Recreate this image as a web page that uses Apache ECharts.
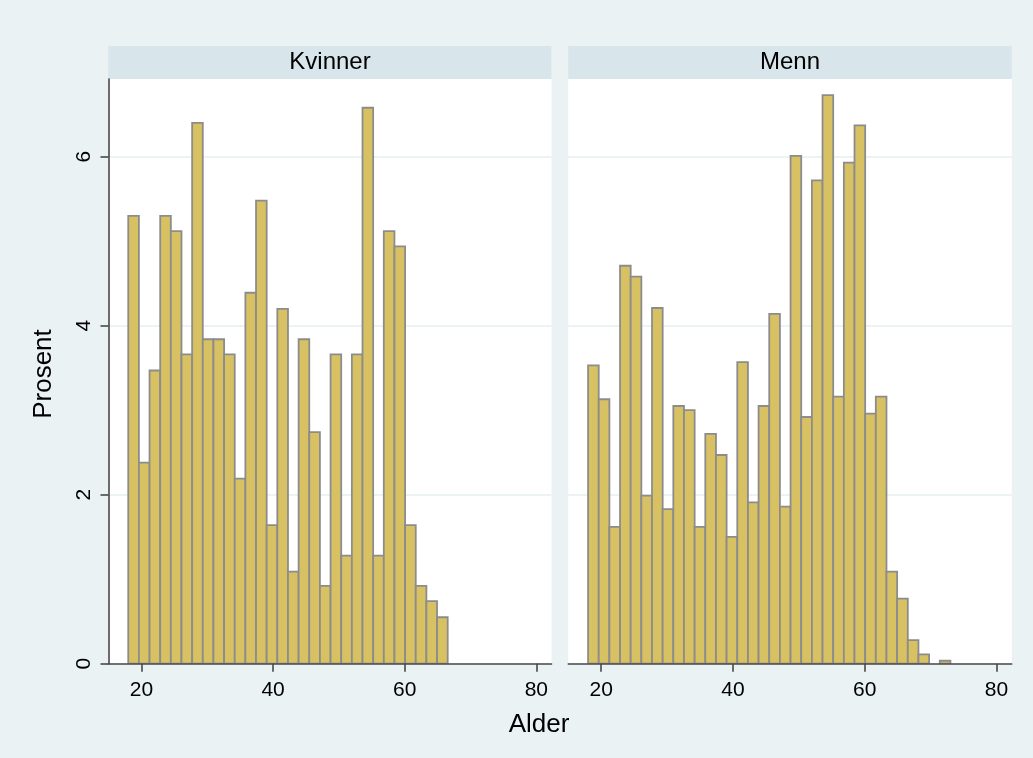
<!DOCTYPE html>
<html><head><meta charset="utf-8">
<script src="https://cdn.jsdelivr.net/npm/echarts@6/dist/echarts.min.js"></script>
<style>html,body{margin:0;padding:0;background:#EAF2F3}#c{width:1033px;height:758px}</style>
</head><body><div id="c"></div>
<script>
const panelTitles = ['Kvinner', 'Menn'];
const binMin = 18;
const binWidth = 55 / 34;
const kvinner = [5.30,2.38,3.47,5.30,5.12,3.66,6.40,3.84,3.84,3.66,2.19,4.39,5.48,1.64,4.20,1.09,3.84,2.74,0.92,3.66,1.28,3.66,6.58,1.28,5.12,4.94,1.64,0.92,0.74,0.55];
const menn = [3.53,3.13,1.62,4.71,4.58,1.99,4.21,1.83,3.05,3.00,1.62,2.72,2.47,1.50,3.57,1.91,3.05,4.14,1.86,6.01,2.92,5.72,6.73,3.16,5.93,6.37,2.96,3.16,1.09,0.77,0.28,0.11,0,0.035];
const xTicks = [20, 40, 60, 80];
const yTicks = [0, 2, 4, 6];
const xTitle = 'Alder';
const yTitle = 'Prosent';

const FONT = "'Liberation Sans', Arial, sans-serif";
const AXIS_COLOR = '#484848';

function toBins(vals) {
  return vals.map((v, i) => [binMin + i * binWidth, binMin + (i + 1) * binWidth, v]);
}

function renderItem(params, api) {
  const s = api.value(0), e = api.value(1), v = api.value(2);
  if (!v) return null;
  const p0 = api.coord([s, v]);
  const p1 = api.coord([e, 0]);
  return {
    type: 'rect',
    shape: { x: p0[0], y: p0[1], width: p1[0] - p0[0], height: p1[1] - p0[1] },
    style: { fill: '#D7C163', stroke: '#8C8C8C', lineWidth: 1.8 }
  };
}

const grids = [
  { left: 108.5, top: 79, width: 443, height: 584.7 },
  { left: 568.3, top: 79, width: 443.4, height: 584.7 }
].map(g => Object.assign(g, { show: true, backgroundColor: '#ffffff', borderWidth: 0, containLabel: false }));

const xAxes = [0, 1].map(i => ({
  type: 'value', gridIndex: i, min: 15, max: 82.3, z: 5,
  axisLine: { show: true, onZero: false, lineStyle: { color: AXIS_COLOR, width: 1.6 } },
  axisTick: { show: true, length: 8, customValues: xTicks, lineStyle: { color: AXIS_COLOR, width: 1.6 } },
  axisLabel: { show: true, customValues: xTicks, margin: 16, fontSize: 21, color: '#000', fontFamily: FONT },
  splitLine: { show: false }
}));

const yAxes = [0, 1].map(i => ({
  type: 'value', gridIndex: i, min: 0, max: 6.92,
  axisLine: { show: i === 0, lineStyle: { color: AXIS_COLOR, width: 1.6 } },
  axisTick: { show: i === 0, length: 8, customValues: yTicks, lineStyle: { color: AXIS_COLOR, width: 1.6 } },
  axisLabel: { show: i === 0, customValues: yTicks, rotate: 90, margin: 14, fontSize: 21, color: '#000', fontFamily: FONT },
  splitLine: { show: true, lineStyle: { color: '#E6EFF2', width: 1.6 } }
}));

const series = [kvinner, menn].map((vals, i) => ({
  type: 'custom', xAxisIndex: i, yAxisIndex: i, z: 2,
  renderItem: renderItem,
  encode: { x: [0, 1], y: 2 },
  data: toBins(vals),
  clip: true, silent: true
}));

const graphic = [
  { type: 'rect', shape: { x: 108.3, y: 46, width: 443, height: 33 }, style: { fill: '#D8E5EA' } },
  { type: 'rect', shape: { x: 568.3, y: 46, width: 443.4, height: 33 }, style: { fill: '#D8E5EA' } },
  { type: 'text', x: 330, y: 62.5, style: { text: panelTitles[0], fontSize: 24, fontFamily: FONT, fill: '#000', align: 'center', verticalAlign: 'middle' } },
  { type: 'text', x: 790, y: 62.5, style: { text: panelTitles[1], fontSize: 24, fontFamily: FONT, fill: '#000', align: 'center', verticalAlign: 'middle' } },
  { type: 'text', x: 539, y: 724.5, style: { text: xTitle, fontSize: 26, fontFamily: FONT, fill: '#000', align: 'center', verticalAlign: 'middle' } },
  { type: 'text', x: 44, y: 374, rotation: Math.PI / 2, style: { text: yTitle, fontSize: 26, fontFamily: FONT, fill: '#000', align: 'center', verticalAlign: 'middle' } }
];

const chart = echarts.init(document.getElementById('c'), null, { renderer: 'canvas' });
chart.setOption({
  backgroundColor: '#EAF2F3',
  animation: false,
  grid: grids,
  xAxis: xAxes,
  yAxis: yAxes,
  series: series,
  graphic: graphic
});
</script>
</body></html>
